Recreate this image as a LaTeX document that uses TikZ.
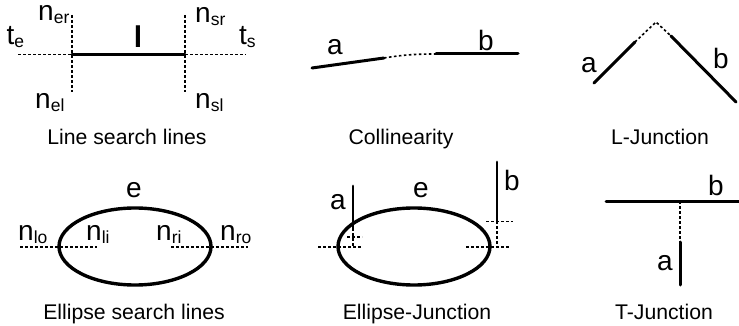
\documentclass[tikz,border=0pt]{standalone}
\usepackage{fontspec}
\setmainfont{Liberation Sans}
\usepackage{tikz}
\usetikzlibrary{positioning,calc,shapes.geometric}

\newcommand{\idx}[2]{#1\raisebox{-3pt}{\fontsize{17.5}{18}\selectfont #2}}

\begin{document}
\begin{tikzpicture}[
    x=1pt, y=-1pt,
    solidLine/.style={line width=3pt, line cap=round, draw=black},
    thinSolid/.style={line width=2.8pt, line cap=round, draw=black},
    searchLine/.style={line width=1.6pt, draw=black, dash pattern=on 2.6pt off 2.4pt},
    ellipseNode/.style={ellipse, draw=black, line width=3.4pt, inner sep=0pt, minimum width=152pt, minimum height=77pt},
    symLabel/.style={font=\fontsize{28}{28}\selectfont, anchor=base, inner sep=0pt},
    caption/.style={font=\fontsize{21.2}{24}\selectfont, anchor=base, inner sep=0pt}
]
\useasboundingbox (0,0) rectangle (739,326);

% ================= LINE SEARCH LINES =================
\coordinate (lineEnd) at (72,54.5);
\coordinate (lineStart) at (185,54.5);
\coordinate (teEnd) at (18,54.5);
\coordinate (tsEnd) at (246,54.5);
\coordinate (nerEnd) at (72,15);
\coordinate (nelEnd) at (72,92);
\coordinate (nsrEnd) at (185,15);
\coordinate (nslEnd) at (185,92);
\draw[searchLine] (teEnd) -- (lineEnd);
\draw[searchLine] (lineStart) -- (tsEnd);
\draw[searchLine] (nerEnd) -- (nelEnd);
\draw[searchLine] (nsrEnd) -- (nslEnd);
\draw[solidLine] (lineEnd) -- (lineStart);

\node[symLabel, font=\fontsize{30}{30}\selectfont\bfseries] (lLabel) at (138,47.5) {l};
\node[symLabel, anchor=base west] (teLabel) at (6.5,45) {\idx{t}{e}};
\node[symLabel, anchor=base west] (tsLabel) at (239,45) {\idx{t}{s}};
\node[symLabel, anchor=base west] (nerLabel) at (38,21) {\idx{n}{er}};
\node[symLabel, anchor=base west] (nelLabel) at (35,108.5) {\idx{n}{el}};
\node[symLabel, anchor=base west] (nsrLabel) at (195,22.5) {\idx{n}{sr}};
\node[symLabel, anchor=base west] (nslLabel) at (195,108.5) {\idx{n}{sl}};
\node[caption] (lineCaption) at (127,145) {Line search lines};

% ================= COLLINEARITY =================
\coordinate (aStart) at (312,68);
\coordinate (aEnd) at (384,58);
\coordinate (bStart) at (436,54);
\coordinate (bEnd) at (518,54);
\draw[solidLine] (aStart) -- (aEnd);
\draw[solidLine] (bStart) -- (bEnd);
\draw[searchLine] (aEnd) .. controls (402,55) and (415,54) .. (bStart);

\node[symLabel] (colA) at (335,55) {a};
\node[symLabel] (colB) at (486,51) {b};
\node[caption] (colCaption) at (401,145) {Collinearity};

% ================= L-JUNCTION =================
\coordinate (ljA0) at (594,83);
\coordinate (ljA1) at (635,42);
\coordinate (ljTop) at (656,22);
\coordinate (ljB0) at (671,36);
\coordinate (ljB1) at (736,102);
\draw[solidLine] (ljA0) -- (ljA1);
\draw[solidLine] (ljB0) -- (ljB1);
\draw[searchLine] (ljA1) -- (ljTop) -- (ljB0);

\node[symLabel] (ljA) at (589,73) {a};
\node[symLabel] (ljB) at (721,69) {b};
\node[caption] (ljCaption) at (660,145) {L-Junction};

% ================= ELLIPSE SEARCH LINES =================
\node[ellipseNode] (ellOne) at (135,246.5) {};
\coordinate (nloEnd) at (20,247);
\coordinate (nliEnd) at (97,247);
\coordinate (nriEnd) at (171,247);
\coordinate (nroEnd) at (248,247);
\draw[searchLine] (nloEnd) -- (nliEnd);
\draw[searchLine] (nriEnd) -- (nroEnd);

\node[symLabel] (eOne) at (134,197) {e};
\node[symLabel, anchor=base west] (nloLabel) at (18,240) {\idx{n}{lo}};
\node[symLabel, anchor=base west] (nliLabel) at (86,240) {\idx{n}{li}};
\node[symLabel, anchor=base west] (nriLabel) at (156,240) {\idx{n}{ri}};
\node[symLabel, anchor=base west] (nroLabel) at (220,240) {\idx{n}{ro}};
\node[caption] (ellCaption) at (134,319) {Ellipse search lines};

% ================= ELLIPSE-JUNCTION =================
\node[ellipseNode] (ellTwo) at (414,246.5) {};
\coordinate (ejA0) at (353,186);
\coordinate (ejA1) at (353,228);
\coordinate (ejAFoot) at (353,247);
\coordinate (ejB0) at (497,162);
\coordinate (ejB1) at (497,221);
\coordinate (ejBFoot) at (497,247);
\draw[thinSolid] (ejA0) -- (ejA1);
\draw[thinSolid] (ejB0) -- (ejB1);
\draw[searchLine] (ejA1) -- (ejAFoot);
\draw[searchLine] (ejB1) -- (ejBFoot);
\draw[searchLine] ($(ejA1)+(-6,9)$) -- ($(ejA1)+(9,9)$);
\draw[searchLine] ($(ejAFoot)+(-35,0)$) -- ($(ejAFoot)+(9,0)$);
\draw[searchLine] ($(ejB1)+(-11,0.5)$) -- ($(ejB1)+(16,0.5)$);
\draw[searchLine] ($(ejBFoot)+(-31,0)$) -- ($(ejBFoot)+(12,0)$);

\node[symLabel] (ejA) at (338,209) {a};
\node[symLabel] (ejE) at (421,197) {e};
\node[symLabel] (ejB) at (512,190) {b};
\node[caption] (ejCaption) at (417,319) {Ellipse-Junction};

% ================= T-JUNCTION =================
\coordinate (tjB0) at (606,201);
\coordinate (tjB1) at (739,201);
\coordinate (tjFoot) at (680,201);
\coordinate (tjA0) at (680,242);
\coordinate (tjA1) at (680,285);
\draw[solidLine] (tjB0) -- (tjB1);
\draw[solidLine] (tjA0) -- (tjA1);
\draw[searchLine] (tjFoot) -- (tjA0);

\node[symLabel] (tjBLabel) at (716,195) {b};
\node[symLabel] (tjALabel) at (665,270) {a};
\node[caption] (tjCaption) at (664,319) {T-Junction};

\end{tikzpicture}
\end{document}
